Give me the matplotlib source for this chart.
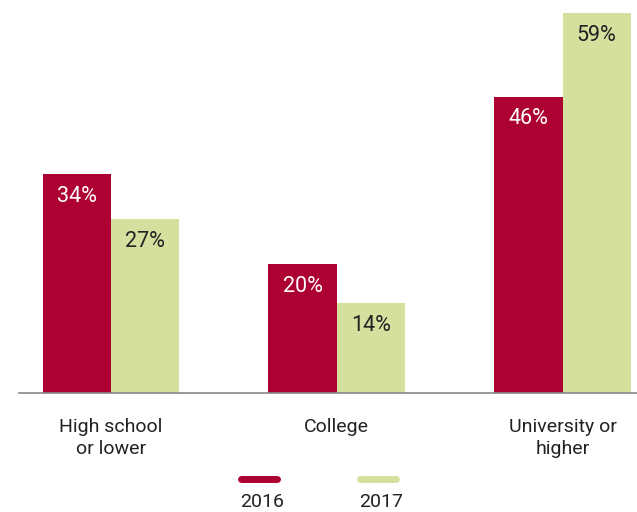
import matplotlib
matplotlib.use('Agg')
import matplotlib.pyplot as plt
from matplotlib.lines import Line2D
import numpy as np

plt.rcParams['font.family'] = 'Roboto'

categories = ['High school\nor lower', 'College', 'University or\nhigher']
years = ['2016', '2017']
values_2016 = [34, 20, 46]
values_2017 = [27, 14, 59]

red = '#AD0033'
green = '#D5E09E'

fig = plt.figure(figsize=(6.37, 5.12), dpi=100)
ax = fig.add_axes([19 / 637, 1 - 393 / 512, 1 - 19 / 637, 393 / 512])

x = np.arange(len(categories))
w = 0.303
b1 = ax.bar(x - w / 2, values_2016, w, color=red)
b2 = ax.bar(x + w / 2, values_2017, w, color=green)

for bars, vals, tc in [(b1, values_2016, 'white'), (b2, values_2017, '#222222')]:
    for bar, v in zip(bars, vals):
        ax.annotate(f'{v}%', (bar.get_x() + bar.get_width() / 2, v),
                    xytext=(0, -16), textcoords='offset points',
                    ha='center', va='center', color=tc, fontsize=15.5)

ax.set_xlim(-0.4075, 2.33)
ax.set_ylim(0, 61)
for s in ['top', 'right', 'left']:
    ax.spines[s].set_visible(False)
ax.spines['bottom'].set_color('#888888')
ax.spines['bottom'].set_linewidth(1.2)
ax.set_yticks([])
ax.set_xticks(x)
ax.set_xticklabels(categories, fontsize=14, color='#222222', linespacing=1.3)
ax.tick_params(axis='x', length=0, pad=18)

# legend: short line above each year label
for xc, col, yr in [(259 / 637, red, years[0]), (378 / 637, green, years[1])]:
    fig.add_artist(Line2D([xc - 18 / 637, xc + 18 / 637], [1 - 479 / 512] * 2,
                          color=col, lw=5, solid_capstyle='round'))
    fig.text(xc + 3 / 637, 1 - 502 / 512, yr, ha='center', va='center',
             fontsize=14, color='#222222')

fig.savefig('out.png', dpi=100)
